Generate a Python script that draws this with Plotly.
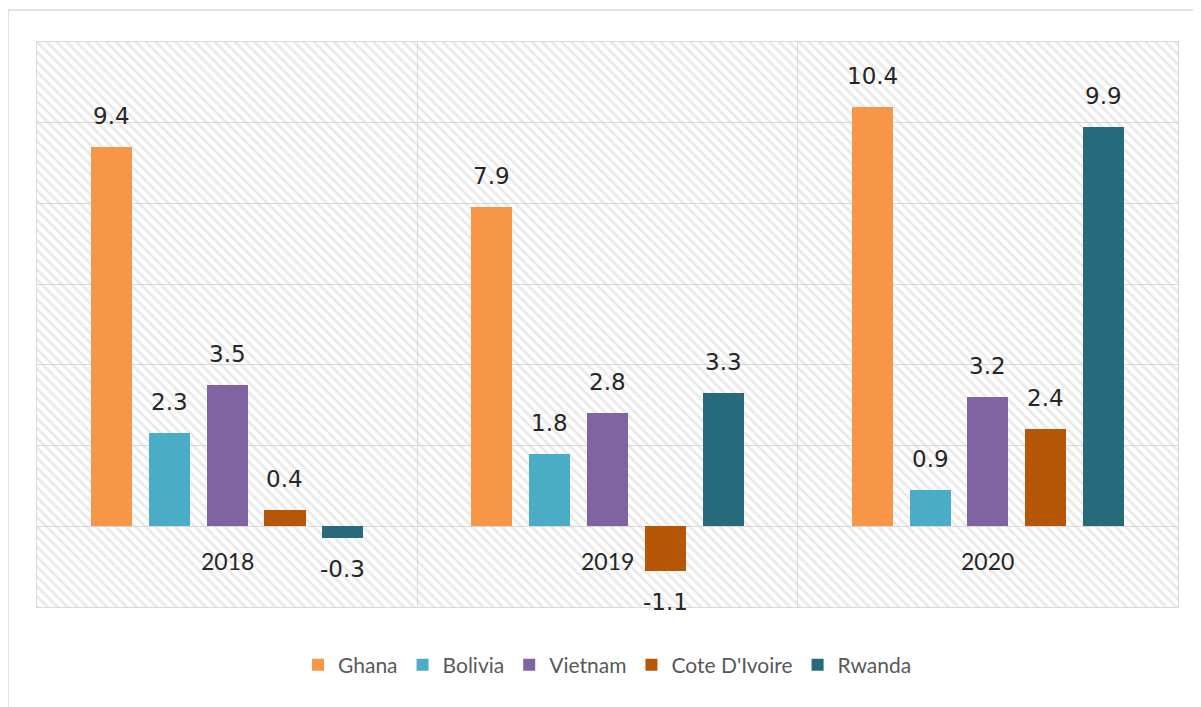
import plotly.graph_objects as go

# ---- data ----
years = ["2018", "2019", "2020"]
countries = ["Ghana", "Bolivia", "Vietnam", "Cote D'Ivoire", "Rwanda"]
ghana = [9.4, 7.9, 10.4]
bolivia = [2.3, 1.8, 0.9]
vietnam = [3.5, 2.8, 3.2]
cote_divoire = [0.4, -1.1, 2.4]
rwanda = [-0.3, 3.3, 9.9]
series = [ghana, bolivia, vietnam, cote_divoire, rwanda]
colors = ["#F79646", "#4BACC6", "#8064A2", "#B65708", "#276A7C"]

# ---- style ----
Y_MIN, Y_MAX, Y_STEP = -2, 12, 2
X_MIN, X_MAX = -0.5, len(years) - 0.5
BARGAP = 0.24
GROUPGAP = 0.29
GRID = "#D9D9D9"
HATCH = "#D4D4D4"
LABEL_FONT = dict(family="DejaVu Sans", size=23, color="#262626")
YEAR_FONT = dict(family="Lato, sans-serif", size=23, color="#262626")
LEGEND_FONT = dict(family="Lato, sans-serif", size=21, color="#595959")

n = len(countries)
slot = (1 - BARGAP) / n
bar_w = slot * (1 - GROUPGAP)

fig = go.Figure()

# hatched plot-area background
fig.add_trace(go.Bar(
    x=[(X_MIN + X_MAX) / 2], y=[Y_MAX - Y_MIN], base=[Y_MIN], width=[X_MAX - X_MIN],
    marker=dict(color="rgba(0,0,0,0)", line=dict(width=0),
                pattern=dict(shape="\\", fgcolor=HATCH, bgcolor="rgba(0,0,0,0)",
                             size=7, solidity=0.4)),
    showlegend=False, hoverinfo="skip",
))

annotations = []
for i, (name, vals, col) in enumerate(zip(countries, series, colors)):
    off = (i - (n - 1) / 2) * slot
    xs = [g + off for g in range(len(years))]
    fig.add_trace(go.Bar(
        x=xs, y=vals, width=[bar_w] * len(vals), name=name,
        marker=dict(color=col, line=dict(width=0)),
        hoverinfo="skip",
    ))
    for x, v in zip(xs, vals):
        annotations.append(dict(
            x=x, y=v, xref="x", yref="y", text=f"{v:.1f}", showarrow=False,
            yanchor="middle", yshift=31 if v >= 0 else -31, font=LABEL_FONT,
        ))

for g, yr in enumerate(years):
    annotations.append(dict(
        x=g, y=0, xref="x", yref="y", text=yr, showarrow=False,
        yanchor="middle", yshift=-35, font=YEAR_FONT,
    ))

fig.update_layout(
    width=1193, height=699,
    margin=dict(l=29, r=23, t=34, b=100),
    paper_bgcolor="white", plot_bgcolor="white",
    barmode="overlay",
    xaxis=dict(range=[X_MIN, X_MAX], tickvals=[g + 0.5 for g in range(len(years) - 1)],
               showticklabels=False, ticks="", showgrid=True, gridcolor=GRID, gridwidth=1,
               zeroline=False, showline=True, mirror=True, linecolor=GRID, linewidth=1),
    yaxis=dict(range=[Y_MIN, Y_MAX], dtick=Y_STEP, tick0=Y_MIN, showticklabels=False, ticks="",
               showgrid=True, gridcolor=GRID, gridwidth=1, zeroline=False,
               showline=True, mirror=True, linecolor=GRID, linewidth=1),
    legend=dict(orientation="h", x=0.5, xanchor="center", y=-0.103, yanchor="middle",
                font=LEGEND_FONT, bgcolor="rgba(0,0,0,0)", traceorder="normal"),
    annotations=annotations,
    shapes=[dict(type="rect", xref="paper", yref="paper", x0=-0.0254, x1=1.2,
                 y0=-0.4, y1=1.0566, line=dict(color=GRID, width=1.5), layer="below")],
    bargap=0,
)

fig.write_html("out.html")
